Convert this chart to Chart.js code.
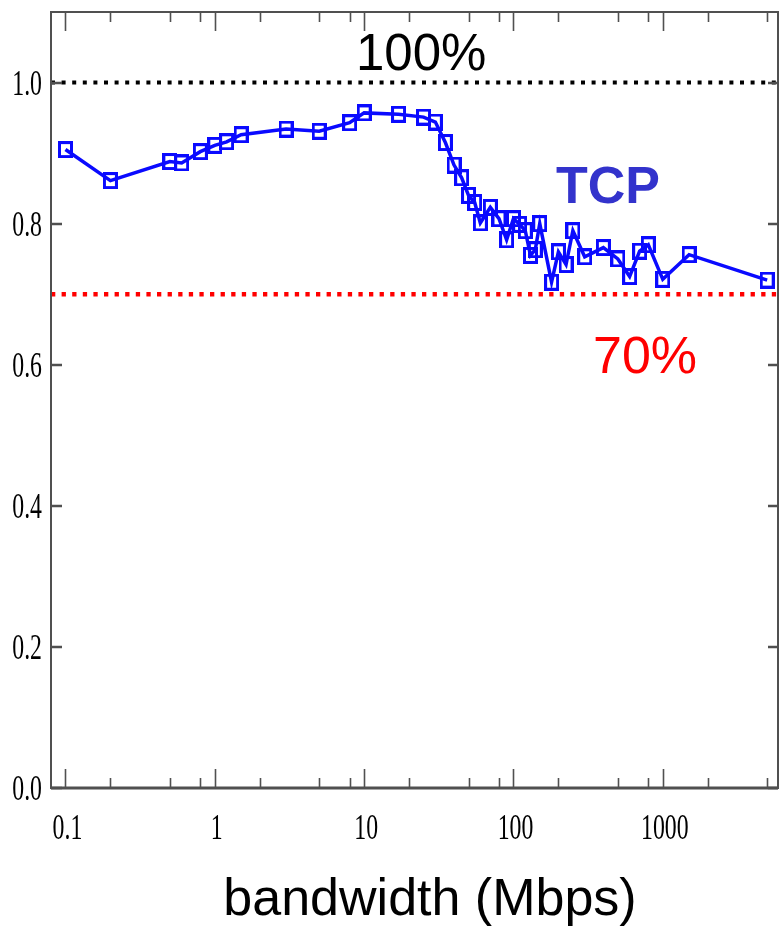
<!DOCTYPE html>
<html>
<head>
<meta charset="utf-8">
<script src="https://cdn.jsdelivr.net/npm/chart.js@4/dist/chart.umd.min.js"></script>
<style>
  html, body { margin: 0; padding: 0; background: #fff; }
  #wrap { width: 779px; height: 928px; position: relative; }
</style>
</head>
<body>
<div id="wrap"><canvas id="c" width="779" height="928"></canvas></div>
<script>
// Link bandwidth (Mbps) and measured TCP utilisation
const bandwidthMbps = [0.1, 0.2, 0.5, 0.6, 0.8, 1.0, 1.2, 1.5,
  3, 5, 8, 10, 17, 25, 30, 35, 40,
  45, 50, 55, 60, 70, 80, 90, 100,
  110, 120, 130, 140, 150, 180, 200, 225, 250,
  300, 400, 500, 600, 700, 800, 1000, 1500, 5000];
const tcpUtilization = [0.905, 0.861, 0.888, 0.886, 0.902, 0.911, 0.916, 0.926,
  0.934, 0.931, 0.943, 0.957, 0.955, 0.951, 0.944, 0.915, 0.883,
  0.865, 0.840, 0.830, 0.801, 0.823, 0.807, 0.777, 0.807,
  0.799, 0.790, 0.755, 0.763, 0.800, 0.717, 0.760, 0.742, 0.790,
  0.753, 0.766, 0.750, 0.725, 0.761, 0.770, 0.721, 0.756, 0.720];

// Reference levels
const fullLevel = 1.0;
const fullLabel = '100%';
const floorLevel = 0.70;
const floorLabel = '70%';
const seriesLabel = 'TCP';
const xTitle = 'bandwidth (Mbps)';

// Axis ranges and ticks
const xMin = 0.08, xMax = 5910;
const yMin = 0, yMax = 1.1;
const xMajorTicks = [0.1, 1, 10, 100, 1000];
const xMajorLabels = ['0.1', '1', '10', '100', '1000'];
const xMinorTicks = [0.2, 0.5, 0.8, 2, 5, 8, 20, 50, 80, 200, 500, 800, 2000, 5000];
const yTicks = [0, 0.2, 0.4, 0.6, 0.8, 1.0];
const yLabels = ['0.0', '0.2', '0.4', '0.6', '0.8', '1.0'];

const points = bandwidthMbps.map((b, i) => ({ x: b, y: tcpUtilization[i] }));
const levelLine = (v) => [{ x: xMin, y: v }, { x: xMax, y: v }];

const SANS = '"Liberation Sans", Arial, Helvetica, sans-serif';
const SERIF = '"Liberation Serif", "Times New Roman", serif';
const BLUE = '#0a0aff';

// Hollow, slightly tall square marker
function squareMarker() {
  const c = document.createElement('canvas');
  c.width = 15; c.height = 17;
  const g = c.getContext('2d');
  g.strokeStyle = BLUE;
  g.lineWidth = 3;
  g.strokeRect(1.5, 1.5, 12, 14);
  return c;
}
const marker = squareMarker();

// Frame, inward ticks, condensed serif tick labels and text annotations
const framePlugin = {
  id: 'frame',
  afterDraw(chart) {
    const { ctx, chartArea: a, scales: { x, y } } = chart;
    ctx.save();
    ctx.strokeStyle = '#505050';
    ctx.lineWidth = 2;
    ctx.strokeRect(a.left, a.top, a.right - a.left, a.bottom - a.top);
    ctx.lineWidth = 3;
    ctx.beginPath();
    ctx.moveTo(a.left, a.bottom); ctx.lineTo(a.right, a.bottom);
    ctx.stroke();

    // x ticks, bottom (upward) and top (downward)
    ctx.lineWidth = 1.6;
    const xTick = (v, len) => {
      const px = Math.round(x.getPixelForValue(v)) + 0.5;
      ctx.beginPath();
      ctx.moveTo(px, a.bottom); ctx.lineTo(px, a.bottom - len);
      ctx.moveTo(px, a.top); ctx.lineTo(px, a.top + len);
      ctx.stroke();
    };
    xMajorTicks.forEach(v => xTick(v, 19));
    xMinorTicks.forEach(v => xTick(v, 10));

    // y ticks, left and right (inward)
    ctx.lineWidth = 2.5;
    yTicks.forEach(v => {
      const py = Math.round(y.getPixelForValue(v));
      ctx.beginPath();
      ctx.moveTo(a.left, py); ctx.lineTo(a.left + 11, py);
      ctx.moveTo(a.right, py); ctx.lineTo(a.right - 10, py);
      ctx.stroke();
    });

    // condensed serif tick labels
    const squeeze = 0.66;
    ctx.fillStyle = '#000';
    ctx.font = '36px ' + SERIF;
    ctx.textBaseline = 'middle';
    yLabels.forEach((t, i) => {
      const py = y.getPixelForValue(yTicks[i]) + 3;
      ctx.save();
      ctx.translate(42, py);
      ctx.scale(squeeze, 1);
      ctx.textAlign = 'right';
      ctx.fillText(t, 0, 0);
      ctx.restore();
    });
    ctx.textBaseline = 'alphabetic';
    xMajorLabels.forEach((t, i) => {
      const px = x.getPixelForValue(xMajorTicks[i]) + 2;
      ctx.save();
      ctx.translate(px, 839);
      ctx.scale(squeeze, 1);
      ctx.textAlign = 'center';
      ctx.fillText(t, 0, 0);
      ctx.restore();
    });

    // annotations
    ctx.textAlign = 'left';
    ctx.fillStyle = '#000';
    ctx.font = '51px ' + SANS;
    ctx.fillText(fullLabel, 356, 70);
    ctx.fillStyle = '#ff0000';
    ctx.font = '52px ' + SANS;
    ctx.fillText(floorLabel, 593, 373);
    ctx.fillStyle = '#3333cc';
    ctx.font = 'bold 52px ' + SANS;
    ctx.fillText(seriesLabel, 556, 203);
    ctx.fillStyle = '#000';
    ctx.font = '52px ' + SANS;
    ctx.textAlign = 'center';
    ctx.fillText(xTitle, 430, 915);
    ctx.restore();
  }
};

new Chart(document.getElementById('c'), {
  type: 'scatter',
  data: {
    datasets: [
      {
        label: fullLabel,
        data: levelLine(fullLevel),
        showLine: true,
        borderColor: '#000',
        borderWidth: 4,
        borderDash: [4, 6.6],
        borderCapStyle: 'butt',
        pointRadius: 0
      },
      {
        label: floorLabel,
        data: levelLine(floorLevel),
        showLine: true,
        borderColor: '#ff0000',
        borderWidth: 4.5,
        borderDash: [4.3, 6.3],
        borderCapStyle: 'butt',
        pointRadius: 0
      },
      {
        label: seriesLabel,
        data: points,
        showLine: true,
        borderColor: BLUE,
        borderWidth: 3.5,
        tension: 0,
        pointStyle: marker,
        pointRadius: 7
      }
    ]
  },
  options: {
    responsive: false,
    animation: false,
    devicePixelRatio: 1,
    layout: { autoPadding: false, padding: { top: 12, right: 1, left: 0, bottom: 0 } },
    plugins: { legend: { display: false }, tooltip: { enabled: false } },
    scales: {
      x: {
        type: 'logarithmic',
        min: xMin, max: xMax,
        grid: { display: false },
        border: { display: false },
        ticks: { display: false },
        afterFit(s) { s.height = 140; }
      },
      y: {
        type: 'linear',
        min: yMin, max: yMax,
        grid: { display: false },
        border: { display: false },
        ticks: { display: false },
        afterFit(s) { s.width = 51; }
      }
    }
  },
  plugins: [framePlugin]
});
</script>
</body>
</html>
